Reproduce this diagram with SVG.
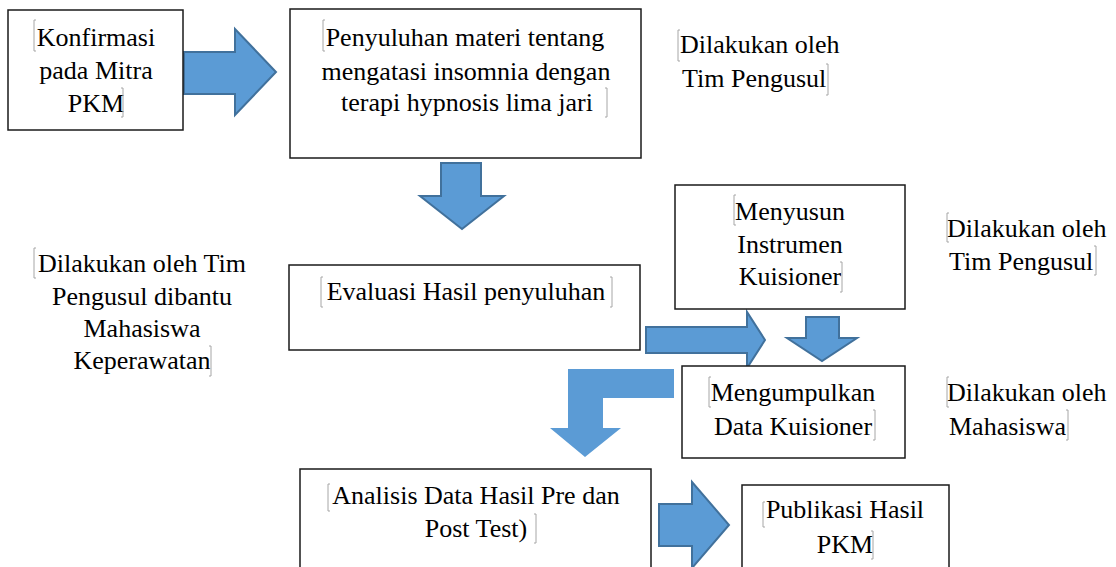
<svg xmlns="http://www.w3.org/2000/svg" width="1116" height="567" viewBox="0 0 1116 567">
<rect width="1116" height="567" fill="#fff"/>
<g id="connectors" fill="#5B9BD5" stroke="#41719C" stroke-width="2">
<path d="M184,52 H235 V29 L276,72 L235,115 V94 H184 Z"/>
<path d="M441,163 H481 V196 H504 L462,229 L420,196 H441 Z"/>
<path d="M646,327 H747 V312 L765,340 L747,368 V353 H646 Z"/>
<path d="M806,317 H839 V338 H857 L822,361 L787,338 H806 Z"/>
<path stroke="none" d="M674,369 V398 H603 V428 H621 L585,457 L550,428 H568 V369 Z"/>
<path d="M659,504 H692 V482 L729,525 L692,568 V546 H659 Z"/>
</g>
<g id="konfirmasi">
<rect x="8" y="10" width="175" height="120" fill="#fff" stroke="#1a1a1a" stroke-width="1.5"/>
<text x="96" y="46" style="font-family:'Liberation Serif',serif;font-size:26px;text-anchor:middle"><tspan x="96">Konfirmasi</tspan><tspan x="96" dy="33">pada Mitra</tspan><tspan x="96" dy="33">PKM</tspan></text>
<path d="M36,20 H34 V51 H36 M121,88 H123 V117 H121" fill="none" stroke="#a6a6a6"/>
</g>
<g id="penyuluhan">
<rect x="290" y="9" width="351" height="149" fill="#fff" stroke="#1a1a1a" stroke-width="1.5"/>
<text x="466" y="46" style="font-family:'Liberation Serif',serif;font-size:26px;text-anchor:middle"><tspan x="465">Penyuluhan materi tentang</tspan><tspan x="466" dy="34">mengatasi insomnia dengan</tspan><tspan x="467" dy="31">terapi hypnosis lima jari</tspan></text>
<path d="M325,20 H323 V51 H325 M605,88 H607 V117 H605" fill="none" stroke="#a6a6a6"/>
</g>
<g id="note-top">
<text x="680" y="53" style="font-family:'Liberation Serif',serif;font-size:26px"><tspan x="680">Dilakukan oleh</tspan><tspan x="682" dy="34">Tim Pengusul</tspan></text>
<path d="M680,30 H678 V61 H680 M826,64 H828 V95 H826" fill="none" stroke="#a6a6a6"/>
</g>
<g id="evaluasi">
<rect x="289" y="265" width="351" height="85" fill="#fff" stroke="#1a1a1a" stroke-width="1.5"/>
<text x="466" y="300" style="font-family:'Liberation Serif',serif;font-size:26px;text-anchor:middle">Evaluasi Hasil penyuluhan</text>
<path d="M323,277 H321 V307 H323 M610,277 H612 V307 H610" fill="none" stroke="#a6a6a6"/>
</g>
<g id="note-left">
<text x="142" y="272" style="font-family:'Liberation Serif',serif;font-size:26px;text-anchor:middle"><tspan x="142">Dilakukan oleh Tim</tspan><tspan x="142" dy="33">Pengusul dibantu</tspan><tspan x="142" dy="32">Mahasiswa</tspan><tspan x="142" dy="32">Keperawatan</tspan></text>
<path d="M36,248 H34 V278 H36 M209,346 H211 V376 H209" fill="none" stroke="#a6a6a6"/>
</g>
<g id="menyusun">
<rect x="675" y="185" width="230" height="124" fill="#fff" stroke="#1a1a1a" stroke-width="1.5"/>
<text x="790" y="220" style="font-family:'Liberation Serif',serif;font-size:26px;text-anchor:middle"><tspan x="790">Menyusun</tspan><tspan x="790" dy="33">Instrumen</tspan><tspan x="790" dy="32">Kuisioner</tspan></text>
<path d="M736,195 H734 V225 H736 M840,262 H842 V292 H840" fill="none" stroke="#a6a6a6"/>
</g>
<g id="note-mid">
<text x="947" y="237" style="font-family:'Liberation Serif',serif;font-size:26px"><tspan x="947">Dilakukan oleh</tspan><tspan x="949" dy="33">Tim Pengusul</tspan></text>
<path d="M949,213 H947 V242 H949 M1094,246 H1096 V275 H1094" fill="none" stroke="#a6a6a6"/>
</g>
<g id="mengumpulkan">
<rect x="682" y="366" width="223" height="92" fill="#fff" stroke="#1a1a1a" stroke-width="1.5"/>
<text x="793" y="401" style="font-family:'Liberation Serif',serif;font-size:26px;text-anchor:middle"><tspan x="793">Mengumpulkan</tspan><tspan x="793" dy="34">Data Kuisioner</tspan></text>
<path d="M711,377 H709 V407 H711 M873,410 H875 V440 H873" fill="none" stroke="#a6a6a6"/>
</g>
<g id="note-bottom">
<text x="947" y="401" style="font-family:'Liberation Serif',serif;font-size:26px"><tspan x="947">Dilakukan oleh</tspan><tspan x="949" dy="34">Mahasiswa</tspan></text>
<path d="M949,377 H947 V407 H949 M1066,410 H1068 V440 H1066" fill="none" stroke="#a6a6a6"/>
</g>
<g id="analisis">
<rect x="300" y="469" width="351" height="110" fill="#fff" stroke="#1a1a1a" stroke-width="1.5"/>
<text x="476" y="504" style="font-family:'Liberation Serif',serif;font-size:26px;text-anchor:middle"><tspan x="476">Analisis Data Hasil Pre dan</tspan><tspan x="476" dy="33">Post Test)</tspan></text>
<path d="M330,484 H328 V511 H330 M534,514 H536 V543 H534" fill="none" stroke="#a6a6a6"/>
</g>
<g id="publikasi">
<rect x="742" y="485" width="207" height="100" fill="#fff" stroke="#1a1a1a" stroke-width="1.5"/>
<text x="845" y="518" style="font-family:'Liberation Serif',serif;font-size:26px;text-anchor:middle"><tspan x="845">Publikasi Hasil</tspan><tspan x="845" dy="35">PKM</tspan></text>
<path d="M765,502 H763 V527 H765 M871,531 H873 V559 H871" fill="none" stroke="#a6a6a6"/>
</g>
</svg>
